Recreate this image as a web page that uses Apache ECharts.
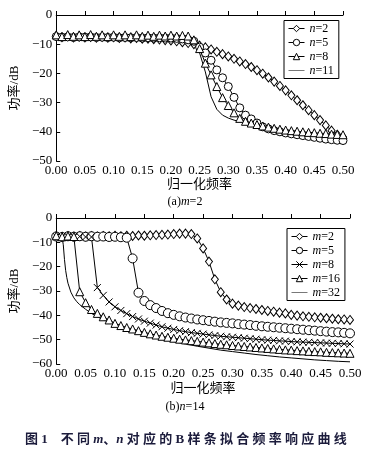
<!DOCTYPE html>
<html><head><meta charset="utf-8">
<script src="https://cdn.jsdelivr.net/npm/echarts@6/dist/echarts.min.js"></script>
<style>html,body{margin:0;padding:0;background:#fff}#c{width:370px;height:457px}</style>
</head><body><div id="c"></div><script>
// shared frequency samples (normalized frequency)
var xs = [0.00,0.01,0.02,0.03,0.04,0.05,0.06,0.07,0.08,0.09,
          0.10,0.11,0.12,0.13,0.14,0.15,0.16,0.17,0.18,0.19,
          0.20,0.21,0.22,0.23,0.24,0.25,0.26,0.27,0.28,0.29,
          0.30,0.31,0.32,0.33,0.34,0.35,0.36,0.37,0.38,0.39,
          0.40,0.41,0.42,0.43,0.44,0.45,0.46,0.47,0.48,0.49,0.50];

// (a) m=2
var n2 = [-7.2,-7.6,-7.3,-7.7,-7.4,-7.7,-7.5,-7.8,-7.5,-7.8,
          -7.6,-7.9,-7.7,-8.0,-7.9,-8.1,-8.1,-8.3,-8.4,-8.6,
          -8.7,-9.0,-9.3,-9.6,-10.0,-10.5,-11.1,-11.8,-12.6,-13.4,
          -14.2,-15.0,-15.9,-16.8,-17.8,-18.9,-20.1,-21.4,-22.8,-24.3,
          -25.8,-27.5,-29.2,-30.9,-32.6,-34.3,-36.0,-37.8,-39.6,-41.0,-41.8];
var n5 = [-7.4,-7.6,-7.5,-7.7,-7.5,-7.6,-7.5,-7.7,-7.6,-7.7,
          -7.6,-7.8,-7.7,-7.8,-7.7,-7.9,-7.8,-7.9,-7.8,-7.9,
          -7.9,-8.0,-8.2,-8.5,-9.0,-11.0,-13.0,-15.5,-18.8,-21.5,
          -24.5,-28.2,-31.8,-34.3,-35.6,-37.0,-38.3,-39.0,-39.6,-40.0,
          -40.4,-40.7,-41.0,-41.3,-41.6,-41.9,-42.2,-42.5,-42.7,-42.9,-43.0];
var n8 = [-6.8,-7.4,-6.7,-7.3,-6.8,-7.4,-6.7,-7.3,-6.8,-7.4,
          -6.8,-7.3,-6.8,-7.4,-6.8,-7.3,-6.9,-7.3,-6.9,-7.2,
          -6.9,-7.2,-7.0,-7.2,-8.5,-11.5,-16.5,-20.5,-24.5,-28.3,
          -31.0,-33.5,-35.4,-36.4,-37.0,-37.5,-38.0,-38.4,-38.8,-39.1,
          -39.4,-39.6,-39.8,-40.0,-40.2,-40.3,-40.5,-40.6,-40.8,-40.9,-41.0];
var n11 = [-7.5,-7.6,-7.5,-7.6,-7.5,-7.6,-7.6,-7.6,-7.6,-7.7,
           -7.7,-7.7,-7.7,-7.8,-7.8,-7.8,-7.8,-7.8,-7.8,-7.8,
           -7.8,-7.8,-7.8,-8.0,-9.5,-13.0,-19.5,-28.0,-32.3,-34.3,
           -35.3,-36.0,-36.5,-37.0,-37.4,-37.8,-38.2,-38.6,-38.9,-39.2,
           -39.5,-39.8,-40.0,-40.3,-40.5,-40.7,-40.9,-41.1,-41.3,-41.5,-41.6];

// (b) n=14
var m2 = [-7.5,-7.7,-7.4,-7.6,-7.4,-7.6,-7.4,-7.6,-7.4,-7.5,
          -7.3,-7.5,-7.3,-7.4,-7.2,-7.3,-7.1,-7.0,-6.9,-6.8,
          -6.6,-6.4,-6.4,-6.6,-8.4,-12.5,-17.9,-25.2,-30.5,-33.5,
          -35.2,-36.0,-36.6,-37.0,-37.4,-37.8,-38.2,-38.5,-38.9,-39.2,
          -39.8,-40.1,-40.4,-40.6,-40.8,-41.0,-41.2,-41.4,-41.6,-41.7,-41.9];
var m5 = [-7.6,-7.8,-7.5,-7.7,-7.5,-7.7,-7.5,-7.7,-7.6,-7.8,
          -7.7,-7.9,-8.1,-16.6,-30.7,-34.1,-35.8,-37.0,-38.2,-39.1,
          -39.8,-40.4,-40.9,-41.3,-41.7,-42.0,-42.3,-42.6,-42.9,-43.1,
          -43.3,-43.6,-43.8,-44.0,-44.3,-44.5,-44.7,-44.9,-45.1,-45.3,
          -45.5,-45.7,-45.9,-46.1,-46.3,-46.5,-46.7,-46.9,-47.0,-47.2,-47.4];
var m8 = [-7.6,-7.9,-7.6,-7.8,-7.6,-7.8,-7.8,-28.6,-31.8,-34.5,
          -36.5,-38.0,-39.3,-40.5,-41.5,-42.4,-43.2,-44.0,-44.7,-45.3,
          -45.8,-46.3,-46.7,-47.1,-47.4,-47.7,-48.0,-48.3,-48.6,-48.8,
          -49.0,-49.2,-49.4,-49.6,-49.8,-50.0,-50.2,-50.3,-50.5,-50.6,
          -50.8,-50.9,-51.0,-51.1,-51.2,-51.3,-51.4,-51.5,-51.6,-51.7,-51.8];
var m16 = [-7.3,-7.7,-7.4,-7.6,-30.3,-34.8,-37.6,-39.2,-40.6,-41.9,
           -43.3,-44.2,-45.0,-45.6,-46.3,-47.0,-47.6,-48.1,-48.6,-49.0,
           -49.4,-49.8,-50.1,-50.4,-50.7,-51.0,-51.3,-51.6,-51.9,-52.1,
           -52.4,-52.6,-52.8,-53.0,-53.2,-53.4,-53.6,-53.8,-54.0,-54.2,
           -54.3,-54.5,-54.6,-54.8,-54.9,-55.0,-55.2,-55.3,-55.4,-55.5,-55.6];
var x32 = [0,0.005,0.01,0.012,0.014,0.016,0.018,0.02,0.025,0.03,0.035,0.04,
           0.05,0.06,0.07,0.08,0.09,0.10,0.12,0.14,0.16,0.18,0.20,0.22,0.24,
           0.26,0.28,0.30,0.32,0.34,0.36,0.38,0.40,0.42,0.44,0.46,0.48,0.50];
var m32 = [-7.5,-7.6,-8.0,-11.0,-17.0,-21.5,-24.5,-26.8,-30.5,-32.8,-34.4,-35.6,
           -37.5,-39.2,-40.6,-41.8,-42.9,-43.9,-45.6,-47.1,-48.5,-49.7,-50.8,-51.8,-52.7,
           -53.5,-54.3,-54.9,-55.5,-56.1,-56.6,-57.1,-57.5,-57.9,-58.3,-58.6,-58.9,-59.1];

var topNames = ['n=2','n=5','n=8','n=11'];
var botNames = ['m=2','m=5','m=8','m=16','m=32'];
var xName = '归一化频率';
var yName = '功率/dB';
var capA = '(a)', capAv = 'm', capAr = '=2';
var capB = '(b)', capBv = 'n', capBr = '=14';

function pairs(xv, yv){ return yv.map(function(v,i){ return [xv[i], v]; }); }

var FONT = '"Liberation Serif","Noto Sans CJK SC",serif';
var CROSS = 'path://M0,0L10,10M0,10L10,0';
var LINEICON = 'path://M0,4.5L30,4.5L30,5.5L0,5.5Z';

function xAx(gi, gap){
  return {gridIndex: gi, type:'value', min:0, max:0.5, interval:0.05,
    name: xName, nameLocation:'middle', nameGap: gap,
    nameTextStyle:{fontFamily:FONT, fontSize:13, color:'#000'},
    axisLine:{lineStyle:{color:'#000', width:1}},
    axisTick:{inside:true, length:4, lineStyle:{color:'#000'}},
    axisLabel:{fontFamily:FONT, fontSize:13, color:'#000', margin:3,
      formatter:function(v){ return v.toFixed(2); }},
    splitLine:{show:false}};
}
function yAx(gi, mn, gap){
  return {gridIndex: gi, type:'value', min:mn, max:0, interval:10,
    name: yName, nameLocation:'middle', nameGap: gap, nameRotate:90,
    nameTextStyle:{fontFamily:FONT, fontSize:13, color:'#000'},
    axisLine:{show:true, lineStyle:{color:'#000', width:1}},
    axisTick:{show:true, inside:true, length:4, lineStyle:{color:'#000'}},
    axisLabel:{fontFamily:FONT, fontSize:13, color:'#000', margin:4,
      formatter:function(v){ return String(v).replace('-', '\u2212'); }},
    splitLine:{show:false}};
}
function ser(name, gi, data, symbol, size){
  return {name:name, type:'line', xAxisIndex:gi, yAxisIndex:gi, data:data,
    symbol: symbol || 'none', symbolSize: size || 0, showSymbol: !!symbol,
    lineStyle:{color:'#000', width:1},
    itemStyle: symbol ? {color:'#fff', borderColor:'#000', borderWidth:1}
                      : {color:'#000', borderColor:'#000', borderWidth:0},
    emphasis:{disabled:true}, animation:false, z: 2};
}
function legendFmt(name){
  var p = name.split('=');
  return '{i|' + p[0] + '}=' + p[1];
}
var legTS = {fontFamily:FONT, fontSize:12, color:'#000', rich:{i:{fontStyle:'italic', fontFamily:FONT, fontSize:12}}};
function legData(names){
  return names.map(function(n, i){
    return i === names.length - 1
      ? {name:n, icon:LINEICON, itemStyle:{color:'#000', borderColor:'#000', borderWidth:0}}
      : {name:n};
  });
}
function legend(names, left, top){
  return {data:legData(names), orient:'vertical', left:left, top:top, itemWidth:16, itemHeight:8, itemGap:2,
    padding:[2,5,2,4], borderColor:'#000', borderWidth:1, backgroundColor:'#fff', borderRadius:0,
    itemStyle:{borderWidth:1}, lineStyle:{width:1},
    formatter:legendFmt, textStyle:legTS, selectedMode:false};
}

var option = {
  backgroundColor:'#fff',
  animation:false,
  grid:[{left:51, top:15, width:292, height:146},
        {left:44, top:218, width:306, height:146}],
  xAxis:[xAx(0, 17), xAx(1, 18)],
  yAxis:[yAx(0, -50, 27), yAx(1, -60, 23)],
  legend:[legend(topNames, 284, 20.5), legend(botNames, 287, 228.5)],
  series:[
    ser('n=2', 0, pairs(xs, n2), 'diamond', [7,9]),
    ser('n=5', 0, pairs(xs, n5), 'circle', 8),
    ser('n=8', 0, pairs(xs, n8), 'triangle', 8),
    ser('n=11', 0, pairs(xs, n11), null, 0),
    ser('m=2', 1, pairs(xs, m2), 'diamond', [7,9]),
    ser('m=5', 1, pairs(xs, m5), 'circle', 9),
    ser('m=8', 1, pairs(xs, m8), CROSS, 7),
    ser('m=16', 1, pairs(xs, m16), 'triangle', 8),
    ser('m=32', 1, pairs(x32, m32), null, 0)
  ],
  graphic:[
    {type:'text', left:'center', top:196, style:{
      text:'{a|' + capA + '}{i|' + capAv + '}{a|' + capAr + '}', font:'12px ' + FONT,
      rich:{a:{fontFamily:FONT, fontSize:12, fill:'#000'}, i:{fontFamily:FONT, fontSize:12, fontStyle:'italic', fill:'#000'}}}},
    {type:'text', left:'center', top:401, style:{
      text:'{a|' + capB + '}{i|' + capBv + '}{a|' + capBr + '}', font:'12px ' + FONT,
      rich:{a:{fontFamily:FONT, fontSize:12, fill:'#000'}, i:{fontFamily:FONT, fontSize:12, fontStyle:'italic', fill:'#000'}}}},
    {type:'text', left:25, top:433, style:{
      text:'{b|图 1}{s|    }{b|不 同 }{v|m}{b|、}{v|n}{b| 对 应 的 B 样 条 拟 合 频 率 响 应 曲 线}',
      rich:{b:{fontFamily:FONT, fontSize:13, fontWeight:'bold', fill:'#1c1c3c'},
            s:{fontFamily:FONT, fontSize:13, fill:'#1c1c3c'},
            v:{fontFamily:FONT, fontSize:13, fontWeight:'bold', fontStyle:'italic', fill:'#1c1c3c'}}}}
  ]
};
var chart = echarts.init(document.getElementById('c'), null, {renderer:'canvas'});
chart.setOption(option);
</script></body></html>
